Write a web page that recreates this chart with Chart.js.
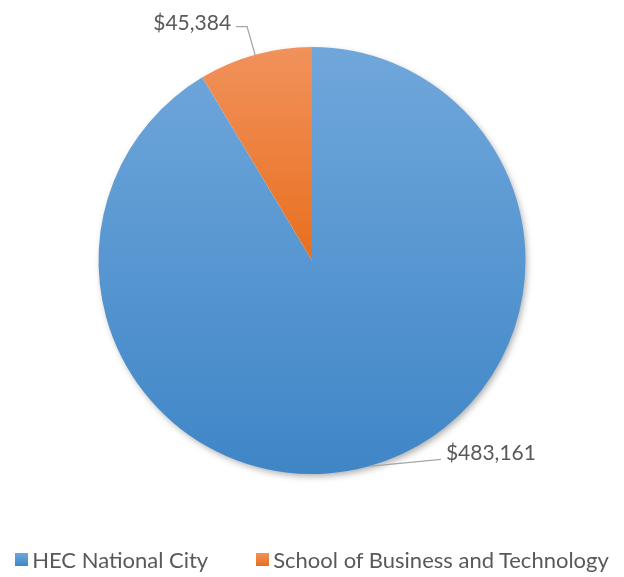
<!DOCTYPE html>
<html>
<head>
<meta charset="utf-8">
<title>Funding by school</title>
<script src="https://cdn.jsdelivr.net/npm/chart.js@4.4.0/dist/chart.umd.min.js"></script>
<style>
    html, body { margin: 0; padding: 0; background: #ffffff; }
    #wrap { position: relative; width: 624px; height: 577px; }
    #legend {
        position: absolute; left: 0; right: 0; top: 546px;
        display: flex; justify-content: center; gap: 48px;
        font-family: Lato, 'Open Sans', sans-serif; font-size: 22px; color: #595959;
    }
    .item { display: flex; align-items: center; white-space: nowrap; }
    .swatch { width: 13px; height: 13px; margin-right: 4px; }
</style>
</head>
<body>
<div id="wrap">
    <canvas id="pie" width="624" height="577"></canvas>
    <div id="legend"></div>
</div>
<script>
const schools = ['HEC National City', 'School of Business and Technology'];
const amounts = [483161, 45384];

// gradient stops per slice, light at top to dark at bottom
const topColors = ['#70a7db', '#f1925c'];
const bottomColors = ['#3f86c7', '#e86f1e'];

// where each label's leader line goes, relative to the slice edge
const leaderOffsets = [
    { elbow: [72, -7], end: [72, -7], align: 'left' },
    { elbow: [-8, -28], end: [-19, -28], align: 'right' }
];

function formatMoney(v) {
    return '$' + v.toLocaleString('en-US');
}

function sliceGradient(context) {
    const chart = context.chart;
    const area = chart.chartArea;
    const i = context.dataIndex;
    if (!area) return topColors[i];
    const cy = (area.top + area.bottom) / 2;
    const r = Math.min(area.right - area.left, area.bottom - area.top) / 2;
    const y0 = cy - r;
    const y1 = i === 0 ? cy + r : cy;
    const g = chart.ctx.createLinearGradient(0, y0, 0, y1);
    g.addColorStop(0, topColors[i]);
    g.addColorStop(1, bottomColors[i]);
    return g;
}

const pieShadow = {
    id: 'pieShadow',
    beforeDatasetsDraw(chart) {
        const arc = chart.getDatasetMeta(0).data[0];
        if (!arc) return;
        const p = arc.getProps(['x', 'y', 'outerRadius'], true);
        const ctx = chart.ctx;
        ctx.save();
        ctx.shadowColor = 'rgba(0,0,0,0.35)';
        ctx.shadowBlur = 7;
        ctx.shadowOffsetX = 2;
        ctx.shadowOffsetY = 3;
        ctx.fillStyle = '#ffffff';
        ctx.beginPath();
        ctx.arc(p.x, p.y, p.outerRadius - 1, 0, Math.PI * 2);
        ctx.fill();
        ctx.restore();
    }
};

const valueLabels = {
    id: 'valueLabels',
    afterDatasetsDraw(chart) {
        const ctx = chart.ctx;
        const values = chart.data.datasets[0].data;
        chart.getDatasetMeta(0).data.forEach((arc, i) => {
            const p = arc.getProps(['x', 'y', 'startAngle', 'endAngle', 'outerRadius'], true);
            const mid = (p.startAngle + p.endAngle) / 2;
            const ax = p.x + Math.cos(mid) * p.outerRadius;
            const ay = p.y + Math.sin(mid) * p.outerRadius;
            const o = leaderOffsets[i];

            ctx.save();
            ctx.strokeStyle = '#a6a6a6';
            ctx.lineWidth = 1.2;
            ctx.beginPath();
            ctx.moveTo(ax, ay);
            ctx.lineTo(ax + o.elbow[0], ay + o.elbow[1]);
            ctx.lineTo(ax + o.end[0], ay + o.end[1]);
            ctx.stroke();

            ctx.fillStyle = '#595959';
            ctx.font = '21px Lato, "Open Sans", sans-serif';
            ctx.textBaseline = 'middle';
            ctx.textAlign = o.align;
            const tx = ax + o.end[0] + (o.align === 'left' ? 5 : -5);
            const ty = ay + o.end[1] - (o.align === 'left' ? 6 : 3);
            ctx.fillText(formatMoney(values[i]), tx, ty);
            ctx.restore();
        });
    }
};

const chart = new Chart(document.getElementById('pie'), {
    type: 'pie',
    data: {
        labels: schools,
        datasets: [{
            data: amounts,
            backgroundColor: sliceGradient,
            borderWidth: 0
        }]
    },
    options: {
        responsive: false,
        animation: false,
        layout: { padding: { top: 47, bottom: 103, left: 0, right: 0 } },
        plugins: {
            legend: { display: false },
            tooltip: { enabled: false }
        }
    },
    plugins: [pieShadow, valueLabels]
});

const legendEl = document.getElementById('legend');
schools.forEach((name, i) => {
    const item = document.createElement('div');
    item.className = 'item';
    const bg = 'linear-gradient(' + topColors[i] + ', ' + bottomColors[i] + ')';
    item.innerHTML = '<span class="swatch" style="background:' + bg + '"></span>' + name;
    legendEl.appendChild(item);
});
</script>
</body>
</html>
